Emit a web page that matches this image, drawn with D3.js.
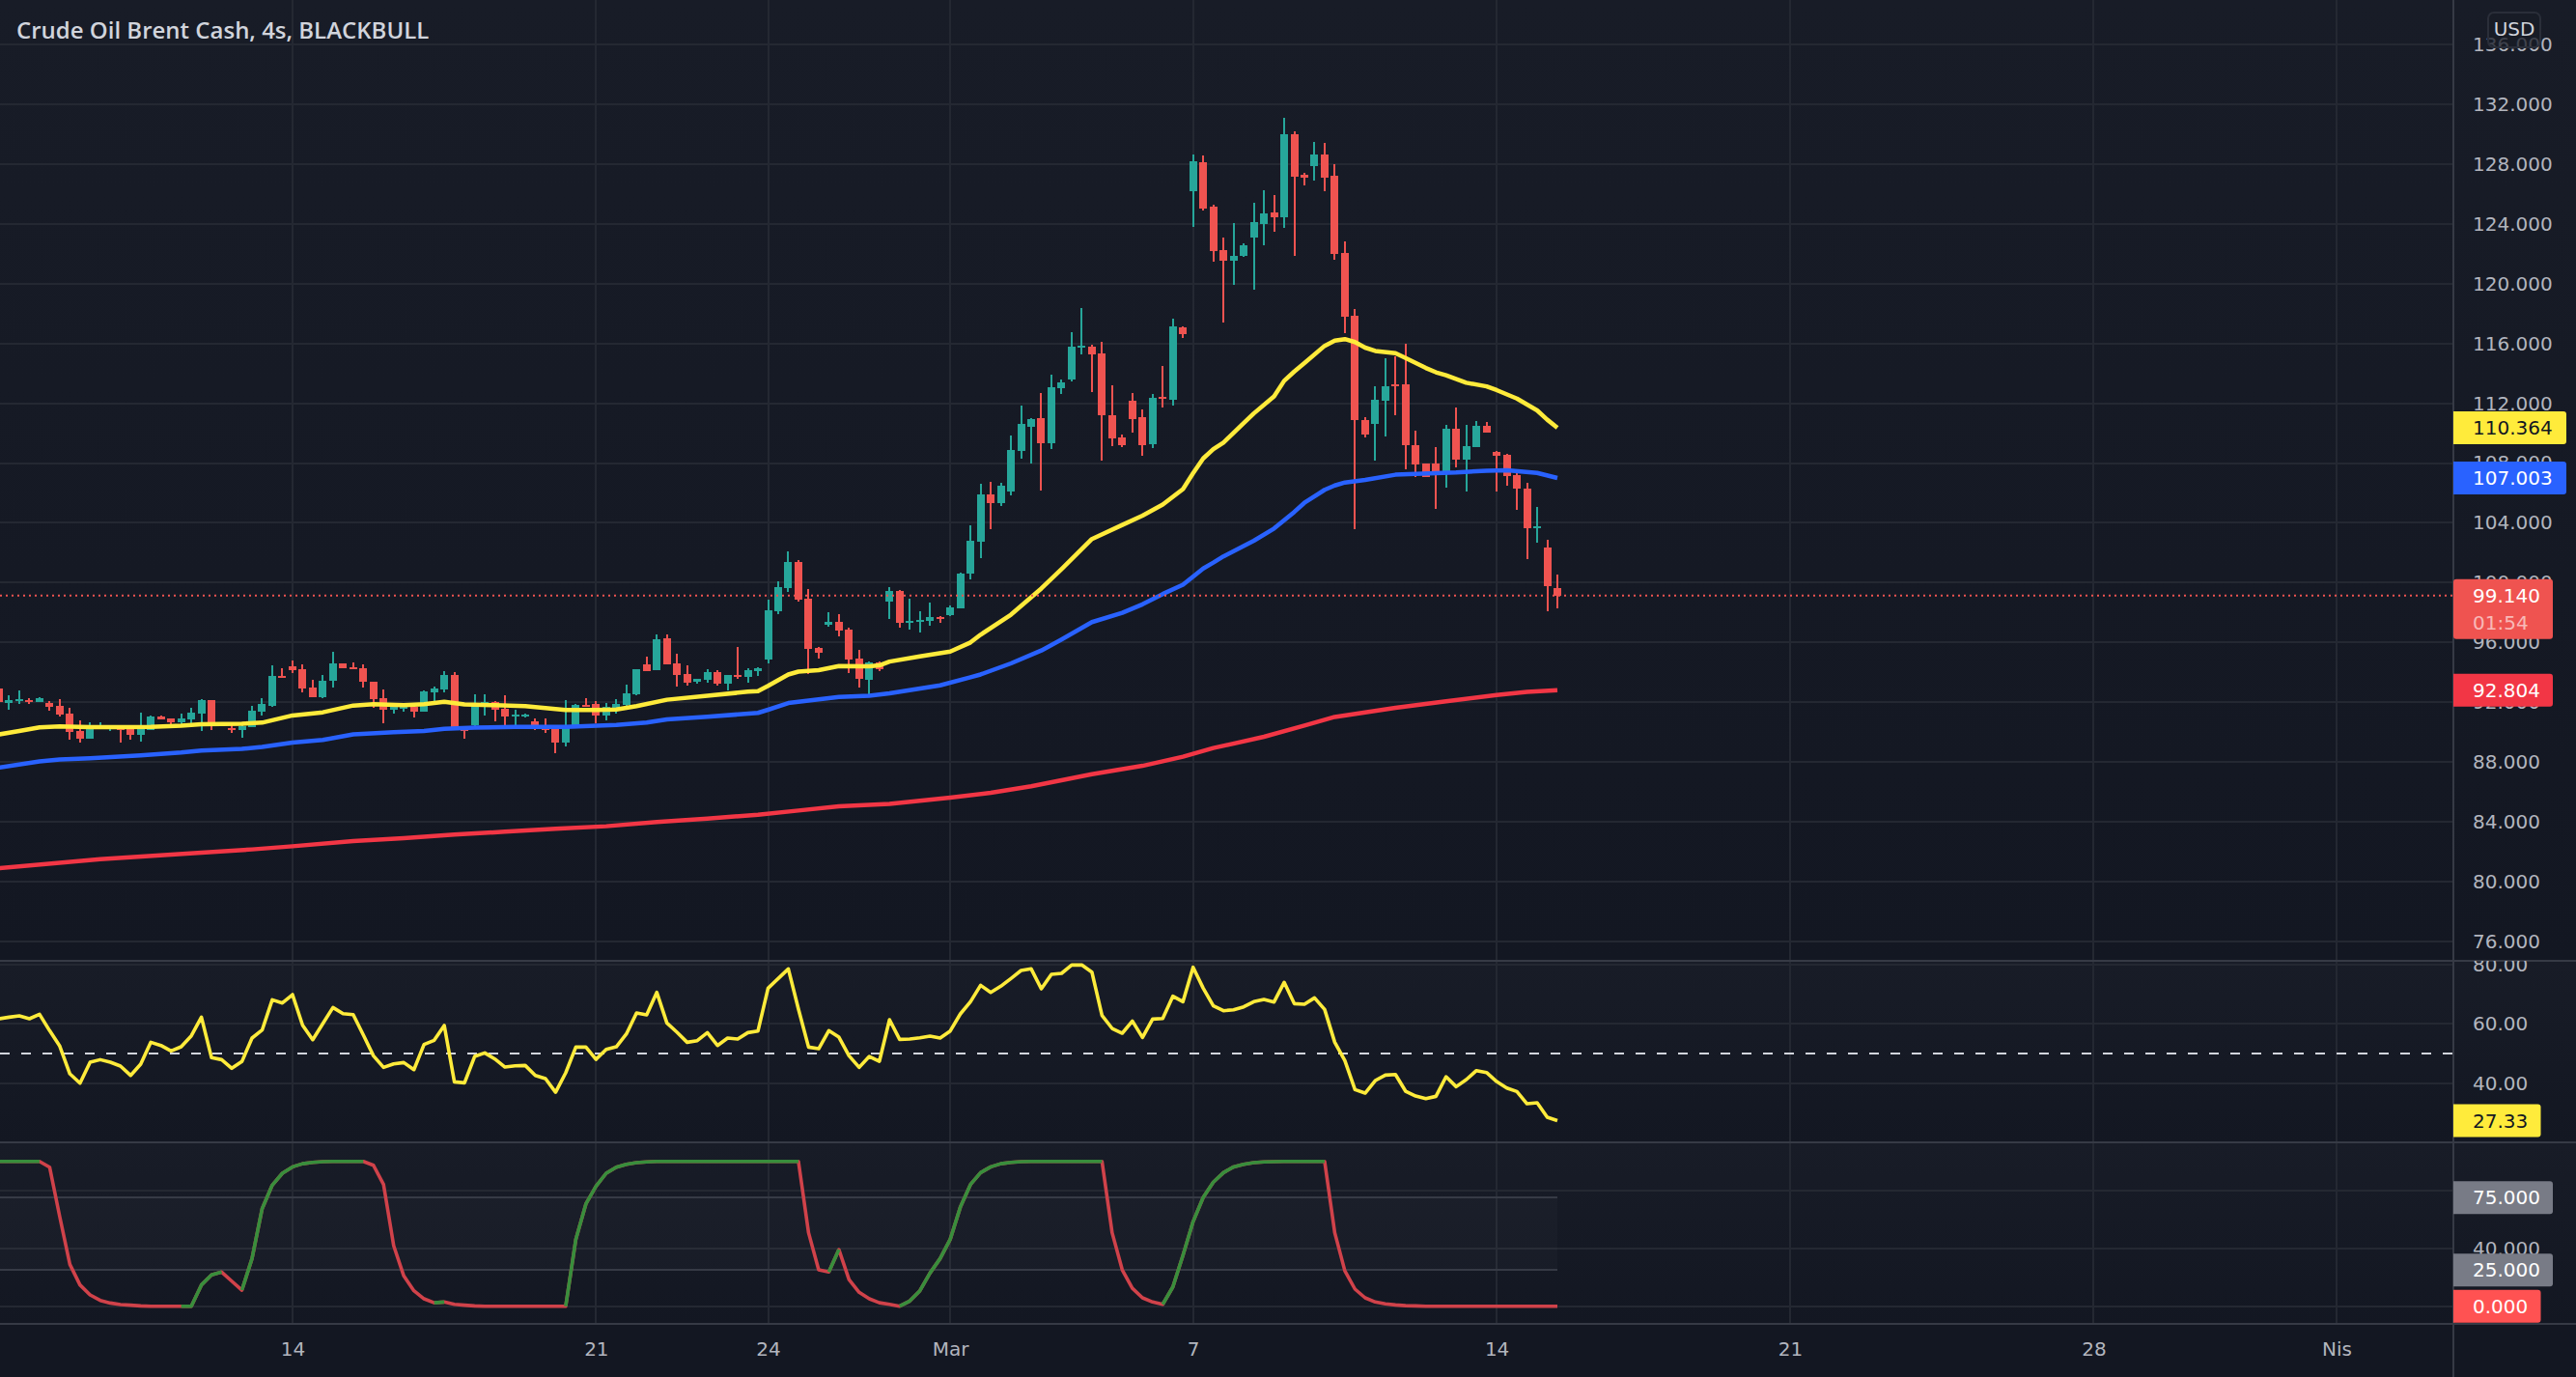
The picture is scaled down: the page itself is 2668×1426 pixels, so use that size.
<!DOCTYPE html>
<html>
<head>
<meta charset="utf-8">
<script src="https://cdn.jsdelivr.net/npm/d3@7"></script>
<style>
  html, body { margin: 0; padding: 0; background: #131722; }
  svg { display: block; }
</style>
</head>
<body>
<svg id="chart" width="2668" height="1426"></svg>
<script>
// candles, 4h bars
var opens = [92.92,91.98,92.06,92.17,92.04,91.98,91.78,91.27,90.10,89.59,
90.32,90.19,90.43,90.23,89.82,90.17,91.07,90.94,90.66,90.88,
91.27,92.17,90.66,90.30,90.17,90.36,91.40,91.78,93.78,94.43,
94.24,93.01,92.36,93.46,94.62,94.37,94.30,93.40,92.30,91.52,
91.63,91.72,91.40,92.69,92.88,93.85,90.23,90.49,91.78,92.04,
91.59,91.09,91.07,90.75,90.49,90.23,89.33,90.30,91.85,91.91,
91.14,91.59,91.85,92.54,94.56,94.17,96.30,94.62,93.91,93.40,
93.53,94.04,93.27,93.85,93.72,94.11,94.88,98.10,99.66,101.39,
98.94,95.61,97.19,97.39,96.88,94.94,93.52,94.69,98.72,99.46,
97.36,97.41,97.46,97.68,97.86,98.30,100.62,102.75,105.91,105.34,
106.11,108.83,110.43,111.03,109.34,113.00,113.57,115.74,115.79,115.35,
111.22,109.72,112.19,111.07,109.27,112.41,112.23,117.08,126.19,128.12,
125.15,122.24,121.55,121.84,123.08,124.00,124.76,124.44,130.00,127.28,
127.87,128.64,127.23,122.07,117.87,110.90,110.63,112.19,113.27,113.27,
109.22,107.99,107.99,107.32,110.31,108.23,109.07,110.51,108.75,108.55,
107.22,106.31,103.69,102.38,99.66];
var highs = [92.95,92.49,92.82,92.30,92.36,92.11,92.23,91.65,90.81,90.66,
90.66,90.49,90.49,90.36,91.33,91.14,91.14,90.94,91.27,91.65,
92.23,92.17,90.66,90.62,90.56,91.78,92.30,94.49,94.30,94.82,
94.56,93.53,93.85,95.40,94.62,94.69,94.56,93.40,92.88,91.91,
91.85,91.78,92.82,93.07,94.11,94.04,90.36,92.56,92.56,92.11,
92.49,91.52,91.27,90.94,90.94,90.23,92.17,91.91,92.30,92.11,
91.98,92.23,93.20,94.24,95.08,96.56,96.56,95.27,94.49,93.59,
94.24,94.17,93.85,95.72,94.30,94.37,98.88,100.08,102.11,101.54,
99.59,95.71,98.03,97.91,97.01,95.52,94.75,94.75,99.69,99.54,
98.94,98.10,98.67,97.78,98.47,100.67,103.86,106.63,106.75,106.68,
109.86,111.86,111.00,112.70,113.92,113.57,116.75,118.39,115.89,116.09,
113.22,109.91,112.70,111.59,112.63,114.51,117.67,117.15,128.64,128.56,
125.25,123.08,124.07,122.71,125.43,126.27,125.92,131.11,130.17,127.43,
129.48,129.43,128.00,122.83,118.31,111.07,113.15,115.03,115.17,115.96,
110.16,107.99,109.07,110.55,111.74,110.55,110.83,110.73,108.80,108.63,
107.37,106.70,105.07,102.87,100.55];
var lows = [91.95,91.52,91.91,91.91,92.04,91.46,91.07,89.52,89.33,89.59,
90.28,90.10,89.33,89.52,89.39,90.17,90.86,90.43,90.36,90.56,
90.10,90.17,90.43,89.97,89.65,90.36,91.14,91.72,93.65,93.98,
92.69,92.36,92.30,93.01,94.30,94.24,93.01,91.65,90.62,91.27,
91.40,91.01,91.40,92.04,92.69,90.17,89.59,90.43,91.14,90.75,
90.36,90.49,91.01,90.17,89.97,88.62,89.07,90.30,91.72,90.62,
90.81,91.27,91.78,92.49,94.11,94.17,94.56,93.07,93.14,93.27,
93.33,93.14,92.82,93.59,93.33,93.78,94.62,97.88,99.41,98.72,
93.89,94.94,97.07,96.38,93.98,93.00,92.53,94.10,97.54,97.02,
96.87,96.65,97.14,97.29,97.78,98.30,100.23,101.66,103.59,105.14,
105.86,108.31,107.99,106.18,108.95,112.63,113.44,115.27,112.75,108.18,
109.15,109.05,110.06,108.50,109.02,111.74,111.86,116.38,123.80,124.91,
121.47,117.40,119.92,121.77,119.60,122.59,123.47,123.75,121.87,126.59,
126.91,126.19,121.60,116.71,103.59,109.72,108.18,109.79,111.22,107.59,
107.07,107.07,104.95,106.38,107.71,106.11,109.07,110.06,106.11,106.50,
104.87,101.59,102.70,98.10,98.30];
var closes = [92.00,92.17,92.21,92.02,92.30,91.72,91.20,90.04,89.59,90.43,
90.45,90.45,90.17,89.82,90.21,91.07,90.88,90.66,90.94,91.33,
92.17,90.62,90.49,90.17,90.38,91.46,91.91,93.78,93.65,94.17,
92.94,92.36,93.46,94.62,94.30,94.24,93.40,92.23,91.52,91.72,
91.72,91.40,92.75,92.94,93.85,90.17,90.15,91.85,92.04,91.52,
91.07,91.20,91.20,90.43,90.17,89.33,90.36,91.85,91.72,91.14,
91.72,91.91,92.62,94.24,94.11,96.24,94.56,93.85,93.33,93.55,
94.04,93.27,93.85,93.72,94.17,94.30,98.17,99.71,101.39,98.87,
95.54,95.34,97.39,96.82,94.88,93.59,94.69,94.23,99.44,97.34,
97.46,97.51,97.68,97.56,98.35,100.60,102.82,105.91,105.34,106.50,
108.90,110.63,110.95,109.34,113.07,113.40,115.79,115.84,115.27,111.22,
109.67,109.20,110.95,109.22,112.38,112.31,117.15,116.63,128.19,125.03,
122.19,121.55,121.87,122.59,124.12,124.71,124.44,130.00,127.16,127.06,
128.64,127.08,121.99,117.79,110.90,109.91,112.23,113.15,113.17,109.22,
107.91,107.07,107.32,110.31,108.23,109.15,110.51,110.06,108.50,107.15,
106.31,103.66,103.76,99.78,99.14];

// moving averages, read at the bars listed next to them
var yellowBars = [0,2,4,6,9,12,15,18,20,24,26,29,32,35,37,40,42,44,46,49,52,56,59,61,63,66,70,74,75,76,78,79,81,83,86,87,88,91,94,96,97,100,103,105,108,111,113,115,117,118,119,120,121,123,124,126,127,128,129,131,132,133,134,135,136,138,139,141,142,143,145,147,148,150,152,153,154];
var yellowVals = [89.85,90.08,90.32,90.38,90.34,90.34,90.36,90.43,90.53,90.56,90.64,91.12,91.33,91.78,91.87,91.80,91.87,92.04,91.85,91.80,91.74,91.48,91.48,91.52,91.74,92.17,92.43,92.71,92.75,93.10,93.86,94.05,94.15,94.42,94.40,94.47,94.72,95.07,95.39,96.00,96.52,97.86,99.61,100.90,102.92,103.86,104.48,105.22,106.26,107.32,108.31,108.93,109.37,110.67,111.32,112.46,113.50,114.12,114.68,115.84,116.19,116.29,116.09,115.72,115.50,115.35,115.03,114.36,114.07,113.87,113.37,113.13,112.88,112.31,111.52,110.90,110.364];
var blueBars = [0,4,6,9,14,18,20,24,26,29,32,35,39,42,44,47,51,56,61,64,66,70,75,76,78,83,86,88,93,96,97,100,103,105,108,111,113,115,117,119,120,121,124,126,128,129,131,132,133,135,138,140,144,147,149,152,154];
var blueVals = [87.63,88.04,88.17,88.25,88.45,88.64,88.77,88.88,89.01,89.31,89.48,89.85,90.00,90.08,90.23,90.30,90.36,90.36,90.49,90.64,90.86,91.03,91.29,91.50,91.95,92.36,92.44,92.60,93.13,93.67,93.86,94.60,95.46,96.20,97.36,97.98,98.55,99.24,99.86,100.95,101.34,101.76,102.80,103.62,104.73,105.34,106.21,106.50,106.70,106.87,107.22,107.27,107.37,107.49,107.52,107.34,107.003];
var redBars = [0,10,20,25,29,35,40,45,50,55,60,65,70,75,79,83,88,94,98,102,108,113,117,120,125,129,132,138,143,148,151,154];
var redVals = [80.91,81.51,81.94,82.16,82.37,82.72,82.91,83.15,83.34,83.54,83.71,83.99,84.22,84.48,84.76,85.04,85.21,85.62,85.95,86.38,87.19,87.75,88.36,88.94,89.69,90.44,91.02,91.63,92.06,92.49,92.70,92.804];

// rsi pane
var rsiVals = [61.74,62.28,62.72,61.74,63.26,57.72,52.50,43.15,40.00,47.06,
47.93,47.06,45.76,42.61,46.41,53.80,52.72,50.87,52.28,55.98,
62.28,48.59,47.93,45.00,47.28,55.22,57.93,68.15,67.06,69.89,
59.56,54.67,60.11,65.54,63.48,63.15,56.30,49.24,45.32,46.52,
46.95,44.56,53.04,54.46,59.46,40.43,40.11,49.02,50.22,48.15,
45.43,45.87,45.98,42.61,41.52,36.95,43.48,52.17,52.17,48.04,
51.41,52.28,56.63,63.70,63.04,70.65,60.33,57.17,53.80,54.35,
57.06,52.72,55.22,54.89,57.06,57.61,72.06,75.33,78.59,64.99,
52.17,51.63,57.72,55.54,49.24,45.32,49.02,47.39,61.41,54.78,
54.89,55.32,55.87,55.22,57.61,63.37,67.50,73.04,70.65,72.72,
75.33,78.04,78.59,71.85,76.74,77.07,79.89,79.89,77.50,62.83,
58.48,56.85,60.98,55.43,61.63,61.85,69.35,67.50,79.13,72.06,
66.09,64.46,64.78,65.76,67.50,68.26,67.39,74.02,66.85,66.63,
68.80,64.89,53.80,47.61,37.82,36.63,40.87,42.72,42.93,37.28,
35.65,34.78,35.54,42.17,38.80,41.20,44.24,43.59,40.54,38.37,
37.17,33.04,33.37,28.48,27.33];
var rsiMid = 50;

// stochastic pane
var stochVals = [100,100,100,100,100,96.0,61.8,28.9,14.7,7.8,
4.0,2.2,1.1,0.7,0.2,0,0,0,0,0,
14.7,21.6,23.6,17.3,11.1,32.9,67.3,83.6,91.8,96.2,
98.4,99.3,99.8,100,100,100,100,97.3,84.0,41.8,
20.9,10.7,5.1,2.4,2.9,1.3,0.7,0.2,0,0,
0,0,0,0,0,0,0,46.2,70.7,82.9,
91.8,96.0,98.0,99.1,99.6,100,100,100,100,100,
100,100,100,100,100,100,100,100,100,100,
50.7,25.1,23.6,39.1,18.4,9.6,5.1,2.4,1.3,0,
3.6,10.7,22.9,32.9,46.2,68.4,84.0,92.2,96.2,98.4,
99.3,99.8,100,100,100,100,100,100,100,100,
50.7,25.1,12.4,5.8,2.9,1.3,13.3,35.1,58.4,75.1,
85.6,92.2,96.2,98.0,99.1,99.6,99.8,100,100,100,
100,100,50.7,24.4,11.8,5.8,2.9,1.6,0.9,0.4,
0.2,0,0,0,0,0,0,0,0,0,0,0,0,0,0];
var stochGreenRuns = [[0,4],[18,22],[24,36],[43,44],[56,79],[82,83],[89,109],[115,131]];
var stochBand = [75,25];

// ticks
var priceTicks = [136,132,128,124,120,116,112,108,104,100,96,92,88,84,80,76];
var rsiTicks = [80,60,40];
var stochTicks = [80,40,0];
var timeTickBars = [29,59,76,94,118,148,177,207,231];
var timeTickLabels = ["14","21","24","Mar","7","14","21","28","Nis"];

var title = "Crude Oil Brent Cash, 4s, BLACKBULL";
var axisFont = "'DejaVu Sans', sans-serif";
var titleFont = "'Open Sans', sans-serif";

var svg = d3.select("#chart");
var paneRight = 2541, width = 2668;
var panes = [[0, 995], [995, 1183], [1183, 1371]];

var x = d3.scaleLinear().domain([0, 154]).range([-1, 1613]);
var yPrice = d3.scaleLinear().domain([136, 76]).range([46, 975]);
var yRsi = d3.scaleLinear().domain([80, 40]).range([999, 1121.7]);
var yStoch = d3.scaleLinear().domain([100, 0]).range([1202.7, 1352.7]);

var defs = svg.append("defs");
var grad = defs.append("linearGradient").attr("id", "paneBg")
    .attr("x1", 0).attr("y1", 0).attr("x2", 0).attr("y2", 1);
grad.append("stop").attr("offset", 0).attr("stop-color", "#181c27");
grad.append("stop").attr("offset", 1).attr("stop-color", "#131722");

panes.forEach(function(p, i) {
  svg.append("rect").attr("x", 0).attr("y", p[0]).attr("width", width).attr("height", p[1] - p[0])
     .attr("fill", "url(#paneBg)");
  defs.append("clipPath").attr("id", "plot" + i).append("rect")
     .attr("x", 0).attr("y", p[0]).attr("width", paneRight).attr("height", p[1] - p[0]);
  defs.append("clipPath").attr("id", "scale" + i).append("rect")
     .attr("x", paneRight).attr("y", p[0]).attr("width", width - paneRight).attr("height", p[1] - p[0]);
});
svg.append("rect").attr("x", 0).attr("y", 1371).attr("width", width).attr("height", 55).attr("fill", "#131722");

// grid
var gridColor = "#242832";
var grid = svg.append("g").attr("stroke", gridColor).attr("stroke-width", 2).attr("shape-rendering", "crispEdges");
function hGrid(ticks, scale) {
  grid.append("g").selectAll("line").data(ticks).join("line")
    .attr("x1", 0).attr("x2", paneRight)
    .attr("y1", function(d) { return scale(d); })
    .attr("y2", function(d) { return scale(d); });
}
hGrid(priceTicks, yPrice);
hGrid(rsiTicks, yRsi);
hGrid(stochTicks, yStoch);
grid.append("g").selectAll("line").data(timeTickBars).join("line")
    .attr("y1", 0).attr("y2", 1371)
    .attr("x1", function(d) { return x(d); })
    .attr("x2", function(d) { return x(d); });

// candles
var bars = opens.map(function(o, i) {
  return {i: i, o: o, h: highs[i], l: lows[i], c: closes[i]};
});
var up = "#26a69a", down = "#ef5350";
var candles = svg.append("g").attr("clip-path", "url(#plot0)").attr("shape-rendering", "crispEdges");
candles.selectAll("line").data(bars).join("line")
    .attr("x1", function(d) { return x(d.i); })
    .attr("x2", function(d) { return x(d.i); })
    .attr("y1", function(d) { return yPrice(d.h); })
    .attr("y2", function(d) { return yPrice(d.l); })
    .attr("stroke-width", 2)
    .attr("stroke", function(d) { return d.c >= d.o ? up : down; });
candles.selectAll("rect").data(bars).join("rect")
    .attr("x", function(d) { return x(d.i) - 4; })
    .attr("width", 8)
    .attr("y", function(d) { return yPrice(Math.max(d.o, d.c)); })
    .attr("height", function(d) { return Math.max(2, Math.abs(yPrice(d.o) - yPrice(d.c))); })
    .attr("fill", function(d) { return d.c >= d.o ? up : down; });

// moving averages
function maLine(barIdx, vals, color) {
  var line = d3.line()
      .x(function(d) { return x(d); })
      .y(function(d, i) { return yPrice(vals[i]); });
  svg.append("path").datum(barIdx)
      .attr("clip-path", "url(#plot0)")
      .attr("fill", "none").attr("stroke", color).attr("stroke-width", 4.5)
      .attr("stroke-linejoin", "round")
      .attr("d", line);
}
maLine(redBars, redVals, "#f23645");
maLine(blueBars, blueVals, "#2962ff");
maLine(yellowBars, yellowVals, "#ffeb3b");

// last price line
svg.append("line").attr("x1", 0).attr("x2", paneRight)
    .attr("y1", yPrice(closes[154])).attr("y2", yPrice(closes[154]))
    .attr("stroke", "#ef5350").attr("stroke-width", 2).attr("stroke-dasharray", "2 4");

// rsi
svg.append("line").attr("x1", 0).attr("x2", paneRight)
    .attr("y1", yRsi(rsiMid)).attr("y2", yRsi(rsiMid))
    .attr("stroke", "#d1d4dc").attr("stroke-width", 2).attr("stroke-dasharray", "10 12");
var rsiLine = d3.line()
    .x(function(d, i) { return x(i); })
    .y(function(d) { return yRsi(d); });
svg.append("path").datum(rsiVals)
    .attr("clip-path", "url(#plot1)")
    .attr("fill", "none").attr("stroke", "#ffeb3b").attr("stroke-width", 3.6)
    .attr("stroke-linejoin", "round")
    .attr("d", rsiLine);

// stochastic band and line
svg.append("rect").attr("x", 0).attr("width", x(154))
    .attr("y", yStoch(stochBand[0]))
    .attr("height", yStoch(stochBand[1]) - yStoch(stochBand[0]))
    .attr("fill", "rgba(255,255,255,0.018)");
svg.append("g").selectAll("line").data(stochBand).join("line")
    .attr("x1", 0).attr("x2", x(154))
    .attr("y1", function(d) { return yStoch(d); })
    .attr("y2", function(d) { return yStoch(d); })
    .attr("stroke", "#363a45").attr("stroke-width", 2).attr("shape-rendering", "crispEdges");
var stochLine = d3.line()
    .x(function(d) { return x(d.i); })
    .y(function(d) { return yStoch(d.v); });
var stochPts = stochVals.map(function(v, i) { return {i: i, v: v}; });
svg.append("path").datum(stochPts)
    .attr("clip-path", "url(#plot2)")
    .attr("fill", "none").attr("stroke", "#d0424a").attr("stroke-width", 3.6)
    .attr("stroke-linejoin", "round")
    .attr("d", stochLine);
stochGreenRuns.forEach(function(r) {
  svg.append("path").datum(stochPts.slice(r[0], r[1] + 1))
    .attr("clip-path", "url(#plot2)")
    .attr("fill", "none").attr("stroke", "#388e3c").attr("stroke-width", 3.6)
    .attr("stroke-linejoin", "round")
    .attr("d", stochLine);
});

// separators
var sepColor = "#363a45";
svg.append("g").selectAll("line").data([995, 1183, 1371]).join("line")
    .attr("x1", 0).attr("x2", width)
    .attr("y1", function(d) { return d; })
    .attr("y2", function(d) { return d; })
    .attr("stroke", sepColor).attr("stroke-width", 2);
svg.append("line").attr("x1", paneRight).attr("x2", paneRight).attr("y1", 0).attr("y2", 1426)
    .attr("stroke", sepColor).attr("stroke-width", 2);

// axes
function rightAxis(scale, ticks, fmt, pane) {
  var g = svg.append("g")
      .attr("clip-path", "url(#scale" + pane + ")")
      .append("g")
      .attr("transform", "translate(" + paneRight + ",0)")
      .call(d3.axisRight(scale).tickValues(ticks).tickSize(0).tickPadding(20).tickFormat(d3.format(fmt)));
  g.select(".domain").remove();
  g.selectAll("text").attr("fill", "#b2b5be").attr("font-family", axisFont).attr("font-size", 20);
}
rightAxis(yPrice, priceTicks, ".3f", 0);
rightAxis(yRsi, rsiTicks, ".2f", 1);
rightAxis(yStoch, stochTicks, ".3f", 2);

var timeAxis = svg.append("g")
    .attr("transform", "translate(0,1371)")
    .call(d3.axisBottom(x).tickValues(timeTickBars).tickSize(0).tickPadding(19)
      .tickFormat(function(d, i) { return timeTickLabels[i]; }));
timeAxis.select(".domain").remove();
timeAxis.selectAll("text").attr("fill", "#b2b5be").attr("font-family", axisFont).attr("font-size", 20);

// value tags on the scale
function tag(cy, right, fill, color, label) {
  svg.append("path")
     .attr("d", "M" + paneRight + "," + (cy - 17) + "H" + (right - 3) + "q3,0 3,3V" + (cy + 14) + "q0,3 -3,3H" + paneRight + "Z")
     .attr("fill", fill);
  svg.append("text").attr("x", 2561).attr("y", cy).attr("dy", "0.36em")
     .attr("font-family", axisFont).attr("font-size", 20)
     .attr("fill", color).text(label);
}
tag(yPrice(110.364), 2658, "#ffeb3b", "#131722", "110.364");
tag(yPrice(107.003), 2658, "#2962ff", "#ffffff", "107.003");
// last price tag is two rows tall
svg.append("rect").attr("x", paneRight).attr("y", yPrice(closes[154]) - 17).attr("width", 103).attr("height", 62).attr("rx", 3).attr("fill", "#ef5350");
svg.append("text").attr("x", 2561).attr("y", yPrice(closes[154])).attr("dy", "0.36em")
   .attr("font-family", axisFont).attr("font-size", 20).attr("fill", "#ffffff").text("99.140");
svg.append("text").attr("x", 2561).attr("y", yPrice(closes[154]) + 28).attr("dy", "0.36em")
   .attr("font-family", axisFont).attr("font-size", 20).attr("fill", "rgba(255,255,255,0.6)").text("01:54");
tag(yPrice(92.804), 2644, "#f23645", "#ffffff", "92.804");
tag(yRsi(27.33), 2631.5, "#ffeb3b", "#131722", "27.33");
tag(yStoch(75), 2644, "#787b86", "#ffffff", "75.000");
tag(yStoch(25), 2644, "#787b86", "#ffffff", "25.000");
tag(yStoch(0), 2631.5, "#ff5252", "#ffffff", "0.000");

// currency badge
svg.append("rect").attr("x", 2577).attr("y", 13).attr("width", 54).attr("height", 36).attr("rx", 6)
   .attr("fill", "rgba(24,28,39,0.75)").attr("stroke", "#2a2e39").attr("stroke-width", 2);
svg.append("text").attr("x", 2604).attr("y", 30).attr("dy", "0.36em").attr("text-anchor", "middle")
   .attr("font-family", axisFont).attr("font-size", 20).attr("fill", "#d1d4dc").text("USD");

// title
svg.append("text").attr("x", 17).attr("y", 31).attr("dy", "0.36em")
   .attr("font-family", titleFont).attr("font-size", 24).attr("font-weight", 600)
   .attr("fill", "#d1d4dc").text(title);
</script>
</body>
</html>
